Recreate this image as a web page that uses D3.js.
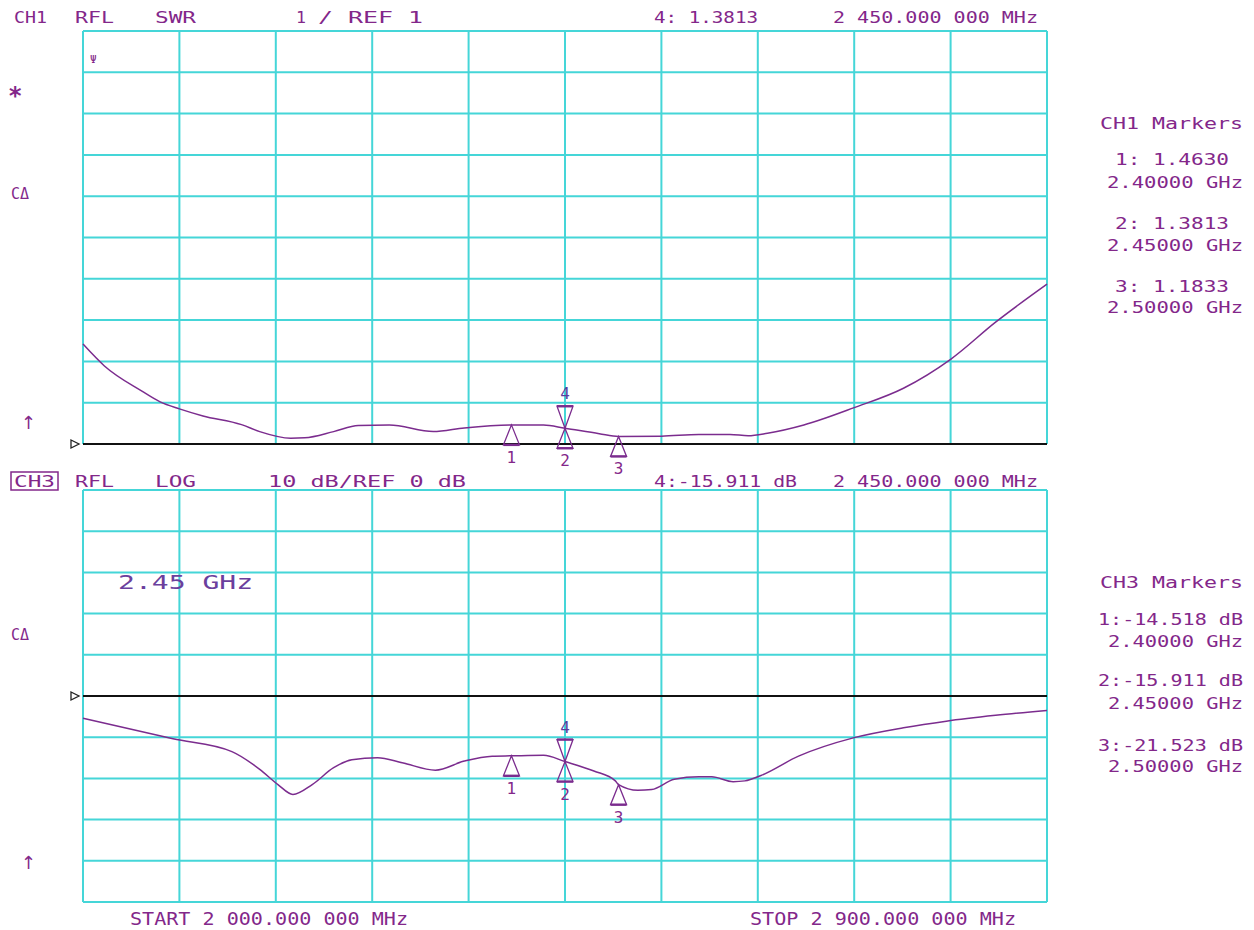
<!DOCTYPE html>
<html lang="en">
<head>
  <title>Network analyzer SWR / return loss</title>
  <meta charset="UTF-8">
  <style>
    body { margin: 0; background: #fff; }
    svg text { font-family: "DejaVu Sans Mono", monospace; }
  </style>
  <script src="https://cdn.jsdelivr.net/npm/d3@7/dist/d3.min.js"></script>
</head>
<body>
<script>
  // trace: frequency (MHz) -> SWR / return loss (dB)
  var swrFreq = [2000, 2020, 2055, 2072, 2090, 2112, 2148, 2165, 2194, 2207, 2234, 2257, 2286, 2327, 2356,
                 2400, 2430, 2450, 2482, 2500, 2540, 2575, 2604, 2621, 2639, 2673, 2720, 2766, 2810, 2852, 2900];
  var swrVals = [3.42, 2.89, 2.28, 2.02, 1.85, 1.68, 1.47, 1.30, 1.14, 1.15, 1.30, 1.45, 1.46, 1.30, 1.39,
                 1.463, 1.46, 1.3813, 1.25, 1.1833, 1.19, 1.23, 1.23, 1.20, 1.26, 1.46, 1.88, 2.35, 3.05, 3.95, 4.87];

  var dbFreq = [2000, 2084, 2139, 2165, 2182, 2196, 2214, 2234, 2251, 2275, 2298, 2329, 2356, 2382,
                2400, 2430, 2450, 2477, 2497, 2500, 2518, 2531, 2552, 2575, 2587, 2607, 2618, 2633, 2668, 2720, 2766, 2806, 2852, 2900];
  var dbVals = [-5.4, -10.4, -13.5, -17.8, -21.5, -23.9, -21.5, -17.4, -15.5, -15.0, -16.2, -18.0, -15.8, -14.6,
                -14.518, -14.4, -15.911, -18.2, -20.6, -21.523, -22.9, -22.7, -20.2, -19.6, -19.6, -20.8, -20.6, -19.3, -14.6, -10.1, -7.7, -6.1, -4.7, -3.5];

  var markerFreq = [2400, 2450, 2500];
  var markerSwr = [1.4630, 1.3813, 1.1833];
  var markerDb = [-14.518, -15.911, -21.523];
  var activeMarker = 1;   // marker 2 is also the active marker "4"

  var freqTicks = d3.range(2000, 2901, 90);
  var swrTicks = d3.range(1, 12, 1);
  var dbTicks = d3.range(-50, 51, 10);

  var ch1Lines = ["1: 1.4630", "2.40000 GHz", "2: 1.3813", "2.45000 GHz", "3: 1.1833", "2.50000 GHz"];
  var ch3Lines = ["1:-14.518 dB", "2.40000 GHz", "2:-15.911 dB", "2.45000 GHz", "3:-21.523 dB", "2.50000 GHz"];

  var W = 1254, H = 930;
  var PURPLE = "#83278a", TRACE = "#7b2c8e", GRID = "#45d6d8", BLUE = "#5a3d9e";

  var svg = d3.select("body").append("svg").attr("width", W).attr("height", H);

  var x = d3.scaleLinear().domain([2000, 2900]).range([83, 1047]);
  var yTop = d3.scaleLinear().domain([1, 11]).range([444, 31]);
  var yBot = d3.scaleLinear().domain([-50, 50]).range([902, 490]);

  function txt(g, s, x0, y0, len, size, color, anchor) {
    var t = g.append("text").attr("x", x0).attr("y", y0)
      .attr("font-size", size).attr("fill", color || PURPLE).text(s);
    if (len) t.attr("textLength", len).attr("lengthAdjust", "spacingAndGlyphs");
    if (anchor) t.attr("text-anchor", anchor);
    return t;
  }

  function drawPanel(y, ticks, refVal, freqs, vals, mVals) {
    var g = svg.append("g");
    g.selectAll(".h").data(ticks).enter().append("line")
      .attr("x1", x(2000)).attr("x2", x(2900))
      .attr("y1", function(d) { return y(d); }).attr("y2", function(d) { return y(d); })
      .attr("stroke", GRID).attr("stroke-width", 2);
    g.selectAll(".v").data(freqTicks).enter().append("line")
      .attr("x1", function(d) { return x(d); }).attr("x2", function(d) { return x(d); })
      .attr("y1", y.range()[0]).attr("y2", y.range()[1])
      .attr("stroke", GRID).attr("stroke-width", 2);

    // reference line + pointer
    g.append("line").attr("x1", x(2000)).attr("x2", x(2900))
      .attr("y1", y(refVal)).attr("y2", y(refVal)).attr("stroke", "#111").attr("stroke-width", 2);
    g.append("path")
      .attr("d", "M" + 71 + "," + (y(refVal) - 4) + "L79," + y(refVal) + "L71," + (y(refVal) + 4) + "Z")
      .attr("fill", "none").attr("stroke", "#222").attr("stroke-width", 1.3);

    var line = d3.line().curve(d3.curveMonotoneX)
      .x(function(d, i) { return x(freqs[i]); }).y(function(d) { return y(d); });
    g.append("path").datum(vals).attr("d", line)
      .attr("fill", "none").attr("stroke", TRACE).attr("stroke-width", 1.5);

    // markers
    markerFreq.forEach(function(f, i) {
      var mx = x(f), my = y(mVals[i]);
      var up = "M" + mx + "," + my + "L" + (mx - 8) + "," + (my + 20) + "L" + (mx + 8) + "," + (my + 20) + "Z";
      g.append("path").attr("d", up).attr("fill", "none").attr("stroke", TRACE).attr("stroke-width", 1.3);
      g.append("line").attr("x1", mx - 8).attr("x2", mx + 8).attr("y1", my + 20).attr("y2", my + 20)
        .attr("stroke", TRACE).attr("stroke-width", 2.4);
      txt(g, String(i + 1), mx, my + 38, null, 16, PURPLE, "middle");
      if (i === activeMarker) {
        var dn = "M" + mx + "," + my + "L" + (mx - 8) + "," + (my - 22) + "L" + (mx + 8) + "," + (my - 22) + "Z";
        g.append("path").attr("d", dn).attr("fill", "none").attr("stroke", TRACE).attr("stroke-width", 1.3);
        g.append("line").attr("x1", mx - 8).attr("x2", mx + 8).attr("y1", my - 22).attr("y2", my - 22)
          .attr("stroke", TRACE).attr("stroke-width", 2.4);
        txt(g, "4", mx, my - 29, null, 16, BLUE, "middle");
      }
    });
    return g;
  }

  var top = drawPanel(yTop, swrTicks, 1, swrFreq, swrVals, markerSwr);
  var bot = drawPanel(yBot, dbTicks, 0, dbFreq, dbVals, markerDb);

  // headers
  txt(svg, "CH1", 14, 23, 33, 15);
  txt(svg, "RFL", 75, 23, 39, 15);
  txt(svg, "SWR", 155, 23, 41, 15);
  txt(svg, "1", 296, 23, 10, 15);
  txt(svg, "/ REF 1", 318, 23, 105, 15);
  txt(svg, "4: 1.3813", 654, 23, 104, 15);
  txt(svg, "2 450.000 000 MHz", 833, 23, 205, 15);

  svg.append("rect").attr("x", 11).attr("y", 472).attr("width", 47).attr("height", 18)
    .attr("fill", "none").attr("stroke", PURPLE).attr("stroke-width", 1.5);
  txt(svg, "CH3", 14, 487, 41, 15);
  txt(svg, "RFL", 75, 487, 39, 15);
  txt(svg, "LOG", 155, 487, 41, 15);
  txt(svg, "10 dB/REF 0 dB", 268, 487, 198, 15);
  txt(svg, "4:-15.911 dB", 654, 487, 143, 15);
  txt(svg, "2 450.000 000 MHz", 833, 487, 205, 15);

  txt(svg, "2.45 GHz", 118, 589, 135, 20, "#6b3f9d");

  // left annotations
  txt(svg, "\u03A8", 90, 63, null, 11);
  txt(svg, "*", 8, 104, null, 24).attr("font-weight", "bold");
  txt(svg, "C\u0394", 11, 199, null, 15);
  txt(svg, "\u2191", 21, 429, null, 18).style("font-family", "DejaVu Sans");
  txt(svg, "C\u0394", 11, 640, null, 15);
  txt(svg, "\u2191", 21, 869, null, 18).style("font-family", "DejaVu Sans");

  // footer
  txt(svg, "START 2 000.000 000 MHz", 130, 925, 278, 17);
  txt(svg, "STOP 2 900.000 000 MHz", 750, 925, 266, 17);

  // marker tables
  txt(svg, "CH1 Markers", 1243, 129, 143, 15, PURPLE, "end");
  var ch1Y = [165, 188, 229, 251, 292, 313];
  ch1Lines.forEach(function(s, i) {
    var isFreq = i % 2 === 1;
    txt(svg, s, isFreq ? 1243 : 1229, ch1Y[i], isFreq ? 136 : 114, 16, PURPLE, "end");
  });
  txt(svg, "CH3 Markers", 1243, 588, 143, 15, PURPLE, "end");
  var ch3Y = [625, 647, 686, 709, 751, 772];
  ch3Lines.forEach(function(s, i) {
    var isFreq = i % 2 === 1;
    txt(svg, s, 1243, ch3Y[i], isFreq ? 135 : 145, 16, PURPLE, "end");
  });
</script>
</body>
</html>
